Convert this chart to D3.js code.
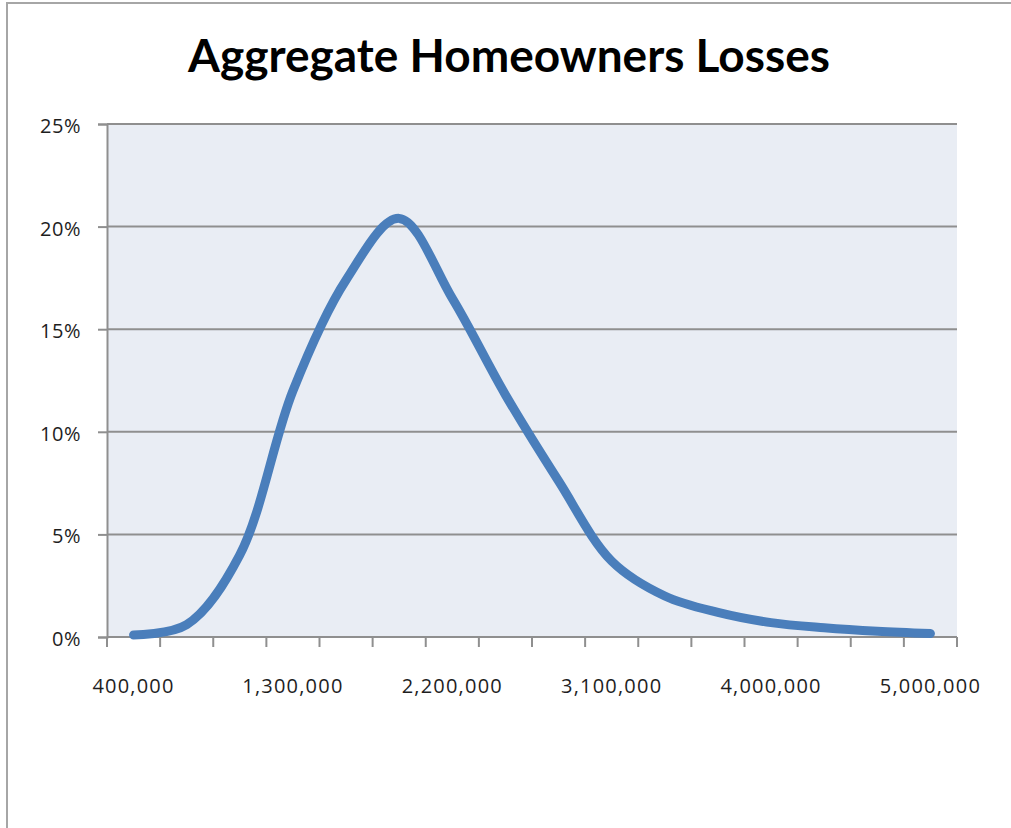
<!DOCTYPE html>
<html>
<head>
<meta charset="utf-8">
<script src="https://cdn.jsdelivr.net/npm/d3@7"></script>
<style>
  html, body { margin: 0; padding: 0; background: #ffffff; }
  svg { display: block; }
</style>
</head>
<body>
<svg id="chart" width="1011" height="828"></svg>
<script>
// Loss amount buckets (category axis) and probability of each bucket
const categories = [400000, 700000, 1000000, 1300000, 1600000, 1900000, 2200000, 2500000,
                    2800000, 3100000, 3400000, 3700000, 4000000, 4300000, 4600000, 5000000];
const probabilities = [0.001, 0.006, 0.040, 0.120, 0.174, 0.204, 0.165, 0.118,
                       0.076, 0.037, 0.020, 0.012, 0.007, 0.0045, 0.0028, 0.0017];
// Categories that carry a visible axis label
const labelledCategories = [400000, 1300000, 2200000, 3100000, 4000000, 5000000];
const yTicks = [0, 0.05, 0.10, 0.15, 0.20, 0.25];
const title = "Aggregate Homeowners Losses";

const svg = d3.select("#chart");
const W = 1011, H = 828;
const plot = { left: 107, right: 957, top: 124, bottom: 637 };
const gridColor = "#8f8f8f";
const textColor = "#1e1e1e";
const fontFamily = "'Open Sans', 'DejaVu Sans', sans-serif";

// Outer chart frame
svg.append("rect")
  .attr("x", 7).attr("y", 3)
  .attr("width", W + 20).attr("height", H + 20)
  .attr("fill", "#ffffff")
  .attr("stroke", "#a6a6a6")
  .attr("stroke-width", 2);

// Title, sized to its set width
const titleText = svg.append("text")
  .attr("x", 509).attr("y", 72)
  .attr("text-anchor", "middle")
  .attr("font-family", "Lato, 'Open Sans', sans-serif")
  .attr("font-weight", 700)
  .attr("font-size", 40)
  .attr("fill", "#000000")
  .text(title);
const tw = titleText.node().getComputedTextLength();
titleText.attr("font-size", 40 * 642 / tw);

const x = d3.scaleBand()
  .domain(categories)
  .range([plot.left, plot.right])
  .paddingInner(0).paddingOuter(0);

const y = d3.scaleLinear()
  .domain([0, 0.25])
  .range([plot.bottom, plot.top]);

// Plot background
svg.append("rect")
  .attr("x", plot.left).attr("y", plot.top)
  .attr("width", plot.right - plot.left)
  .attr("height", plot.bottom - plot.top)
  .attr("fill", "#e9edf4");

// Horizontal gridlines
svg.append("g")
  .selectAll("line")
  .data(yTicks.filter(d => d > 0))
  .join("line")
  .attr("x1", plot.left).attr("x2", plot.right)
  .attr("y1", d => y(d)).attr("y2", d => y(d))
  .attr("stroke", gridColor)
  .attr("stroke-width", 2);

// Y axis
const yAxis = d3.axisLeft(y)
  .tickValues(yTicks)
  .tickFormat(d3.format(".0%"))
  .tickSize(9)
  .tickPadding(17);
const gy = svg.append("g")
  .attr("transform", `translate(${plot.left},0)`)
  .call(yAxis);
gy.select(".domain").attr("stroke", gridColor).attr("stroke-width", 2);
gy.selectAll(".tick line").attr("stroke", gridColor).attr("stroke-width", 2);
gy.selectAll(".tick text")
  .attr("font-family", fontFamily)
  .attr("font-size", 20)
  .attr("letter-spacing", 0.5)
  .attr("fill", textColor)
  .attr("dy", "0.42em");

// X axis: tick marks sit between categories, labels on selected categories
const fmt = d3.format(",");
const gx = svg.append("g")
  .attr("transform", `translate(0,${plot.bottom})`);
gx.append("line")
  .attr("x1", plot.left).attr("x2", plot.right)
  .attr("y1", 0).attr("y2", 0)
  .attr("stroke", gridColor).attr("stroke-width", 2);
const boundaries = categories.map(c => x(c)).concat([x(categories[categories.length - 1]) + x.bandwidth()]);
gx.selectAll("line.tick")
  .data(boundaries)
  .join("line")
  .attr("class", "tick")
  .attr("x1", d => d).attr("x2", d => d)
  .attr("y1", 0).attr("y2", 10)
  .attr("stroke", gridColor).attr("stroke-width", 2);
gx.selectAll("text")
  .data(labelledCategories)
  .join("text")
  .attr("x", d => x(d) + x.bandwidth() / 2)
  .attr("y", 56)
  .attr("text-anchor", "middle")
  .attr("font-family", fontFamily)
  .attr("font-size", 20)
  .attr("letter-spacing", 1.2)
  .attr("fill", textColor)
  .text(d => fmt(d));

// Probability curve
const line = d3.line()
  .x((d, i) => x(categories[i]) + x.bandwidth() / 2)
  .y(d => y(d))
  .curve(d3.curveCatmullRom.alpha(0.5));

svg.append("path")
  .datum(probabilities)
  .attr("d", line)
  .attr("fill", "none")
  .attr("stroke", "#4a7ebb")
  .attr("stroke-width", 9)
  .attr("stroke-linecap", "round")
  .attr("stroke-linejoin", "round");
</script>
</body>
</html>
